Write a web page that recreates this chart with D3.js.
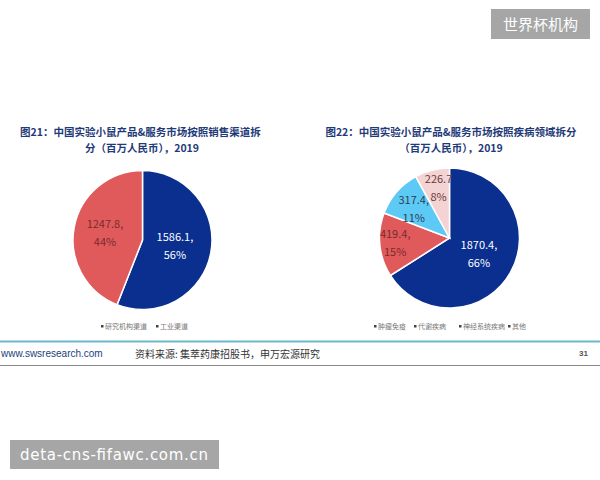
<!DOCTYPE html>
<html><head><meta charset="utf-8">
<script src="https://cdn.jsdelivr.net/npm/d3@7"></script>
<style>body{margin:0;background:#fff}svg{display:block}</style>
</head><body>
<svg id="c" width="600" height="480"></svg>
<script>
const leftCategories = ["研究机构渠道", "工业渠道"];
const leftValues = [1586.1, 1247.8];
const leftPct = ["56%", "44%"];
const rightCategories = ["肿瘤免疫", "代谢疾病", "神经系统疾病", "其他"];
const rightValues = [1870.4, 419.4, 317.4, 226.7];
const rightPct = ["66%", "15%", "11%", "8%"];
const leftColors = ["#0a2f8f", "#e05a5c"];
const rightColors = ["#0a2f8f", "#e05a5c", "#5ccaf4", "#f3d3d3"];
const leftLabelColors = ["#ffffff", "#7a2b2b"];
const rightLabelColors = ["#ffffff", "#7a2b2b", "#2d3f57", "#6b3a35"];

const svg = d3.select("#c");
const font = "'Noto Sans CJK SC','Noto Sans',sans-serif";

// watermark top right
svg.append("rect").attr("x",491).attr("y",9).attr("width",99).attr("height",30).attr("fill","#a6a6a6");
svg.append("text").attr("x",540.5).attr("y",30).attr("text-anchor","middle").attr("fill","#fff")
  .attr("font-family",font).attr("font-size",15).text("世界杯机构");

// titles
function titleText(t, x, y, anchor){
  svg.append("text").attr("x",x).attr("y",y).attr("text-anchor",anchor).attr("fill","#1f3a78")
    .attr("font-family",font).attr("font-weight","bold").attr("font-size",10.5).text(t);
}
titleText("图21：中国实验小鼠产品&服务市场按照销售渠道拆", 20, 136, "start");
titleText("分（百万人民币），2019", 142, 152, "middle");
titleText("图22：中国实验小鼠产品&服务市场按照疾病领域拆分", 451, 136, "middle");
titleText("（百万人民币），2019", 451, 152, "middle");

function pie(cx, cy, r, values, colors, labelPos, labelShift, labelColors, pcts){
  const g = svg.append("g").attr("transform",`translate(${cx},${cy})`);
  const arcs = d3.pie().sort(null).value(d=>d)(values);
  const arc = d3.arc().innerRadius(0).outerRadius(r);
  g.selectAll("path").data(arcs).join("path").attr("d",arc)
    .attr("fill",(d,i)=>colors[i]).attr("stroke","#fff").attr("stroke-width",1.5);
  arcs.forEach((d,i)=>{
    const c = d3.arc().innerRadius(0).outerRadius(r*labelPos[i]).centroid(d);
    const x = c[0] + labelShift[i];
    const t = g.append("text").attr("text-anchor","middle").attr("fill",labelColors[i])
      .attr("font-family",font).attr("font-size",11);
    t.append("tspan").attr("x",x).attr("y",c[1]-5).text(values[i] + (i===3?"":","));
    t.append("tspan").attr("x",x).attr("y",c[1]+13).text(pcts[i]);
  });
}
pie(142.5, 240, 69.5, leftValues, leftColors, [0.95,1.1], [0,0], leftLabelColors, leftPct);
pie(449.5, 238, 70, rightValues, rightColors, [0.96,1.56,1.28,1.49], [0,0,-2,2], rightLabelColors, rightPct);

function legend(items, xs, y){
  items.forEach((t,i)=>{
    svg.append("rect").attr("x",xs[i]).attr("y",y-4).attr("width",2.5).attr("height",2.5).attr("fill","#444");
    svg.append("text").attr("x",xs[i]+4).attr("y",y).attr("fill","#777").attr("font-family",font)
      .attr("font-size",7).text(t);
  });
}
legend(leftCategories, [101,156], 329);
legend(rightCategories, [374,414,459,508], 329);

// footer
svg.append("line").attr("x1",0).attr("x2",600).attr("y1",341.5).attr("y2",341.5).attr("stroke","#6cb8c9").attr("stroke-width",2);
svg.append("line").attr("x1",0).attr("x2",600).attr("y1",365.5).attr("y2",365.5).attr("stroke","#888").attr("stroke-width",1);
svg.append("text").attr("x",1).attr("y",357).attr("fill","#24417d").attr("font-family","'Liberation Sans',Arial,sans-serif")
  .attr("font-size",10).text("www.swsresearch.com");
svg.append("text").attr("x",135).attr("y",358).attr("fill","#333").attr("font-family",font)
  .attr("font-size",10).text("资料来源: 集萃药康招股书，申万宏源研究");
svg.append("text").attr("x",579).attr("y",356).attr("fill","#555").attr("font-family","'Liberation Sans',Arial,sans-serif")
  .attr("font-size",8).attr("font-weight","bold").text("31");

// bottom-left watermark
svg.append("rect").attr("x",10).attr("y",440).attr("width",209).attr("height",29).attr("fill","#a6a6a6");
svg.append("text").attr("x",20).attr("y",460).attr("fill","#fff")
  .attr("font-family","'DejaVu Sans',sans-serif").attr("font-size",15)
  .attr("textLength",188).attr("lengthAdjust","spacing").text("deta-cns-fifawc.com.cn");
</script>
</body></html>
